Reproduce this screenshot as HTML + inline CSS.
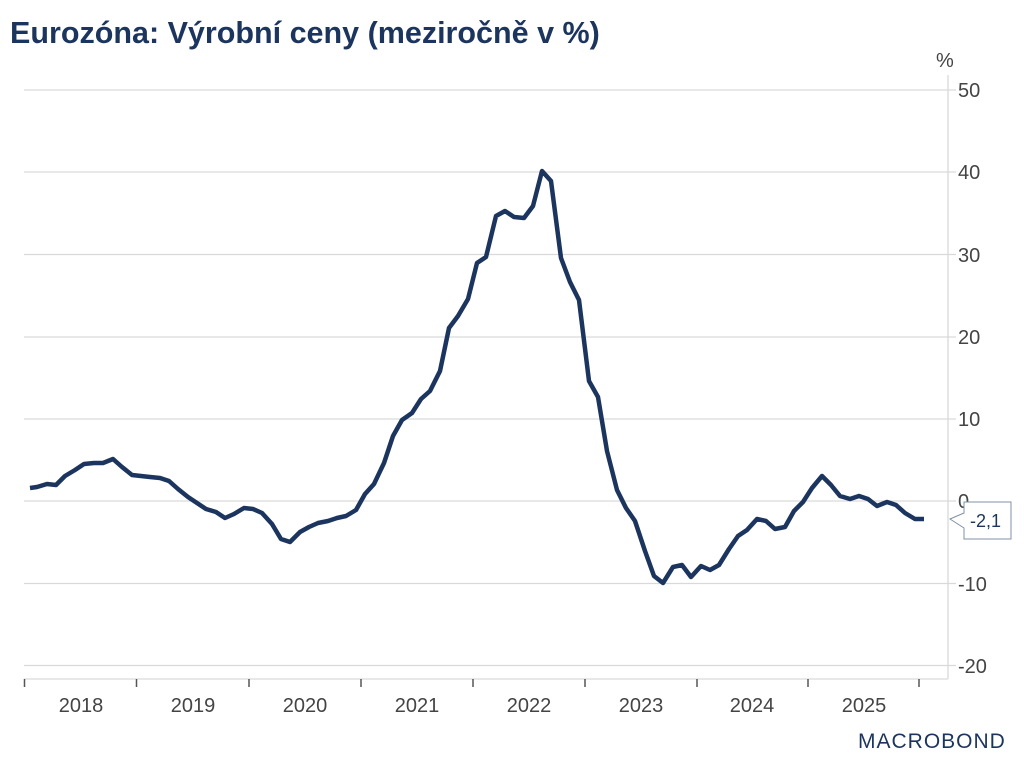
<!DOCTYPE html>
<html><head><meta charset="utf-8"><style>
body{margin:0;background:#fff;}
svg{display:block;font-family:"Liberation Sans",sans-serif;}
</style></head><body>
<svg width="1024" height="767" viewBox="0 0 1024 767">
<text x="10" y="43" font-size="30.5" font-weight="bold" fill="#1c355e">Eurozóna: Výrobní ceny (meziročně v %)</text>
<g stroke="#d9d9d9" stroke-width="1.3">
<line x1="24" y1="90" x2="956" y2="90"/>
<line x1="24" y1="172" x2="956" y2="172"/>
<line x1="24" y1="254.5" x2="956" y2="254.5"/>
<line x1="24" y1="337" x2="956" y2="337"/>
<line x1="24" y1="419" x2="956" y2="419"/>
<line x1="24" y1="501" x2="956" y2="501"/>
<line x1="24" y1="583.5" x2="956" y2="583.5"/>
<line x1="24" y1="665.5" x2="956" y2="665.5"/>
<line x1="948" y1="75" x2="948" y2="679"/>
<line x1="24" y1="679" x2="948" y2="679"/>
</g>
<g stroke="#555" stroke-width="1.5">
<line x1="24.5" y1="679" x2="24.5" y2="687"/><line x1="136.5" y1="679" x2="136.5" y2="687"/>
<line x1="249" y1="679" x2="249" y2="687"/><line x1="361" y1="679" x2="361" y2="687"/>
<line x1="473" y1="679" x2="473" y2="687"/><line x1="585" y1="679" x2="585" y2="687"/>
<line x1="697" y1="679" x2="697" y2="687"/><line x1="808" y1="679" x2="808" y2="687"/>
<line x1="919" y1="679" x2="919" y2="687"/>
</g>
<g font-size="20" fill="#444" text-anchor="middle">
<text x="81" y="712">2018</text><text x="193" y="712">2019</text><text x="305" y="712">2020</text>
<text x="417" y="712">2021</text><text x="529" y="712">2022</text><text x="641" y="712">2023</text>
<text x="752" y="712">2024</text><text x="864" y="712">2025</text>
</g>
<g font-size="20" fill="#444">
<text x="936" y="67">%</text>
<text x="958" y="97">50</text><text x="958" y="179">40</text><text x="958" y="262">30</text>
<text x="958" y="344">20</text><text x="958" y="426">10</text><text x="958" y="508">0</text>
<text x="958" y="591">-10</text><text x="958" y="673">-20</text>
</g>
<path d="M964,502 H1011 V539 H964 V528 L950,519 L964,513 Z" fill="#fff" stroke="#8090a8" stroke-width="1"/>
<text x="970" y="527" font-size="18" fill="#1c355e">-2,1</text>
<polyline fill="none" stroke="#1c355e" stroke-width="4.5" stroke-linejoin="round" points="30,488 37,487 47,484 56,485 65,476 75,470 84,464 94,463 103,463 113,459 122,467 132,475 141,476 150,477 160,478 169,481 178,489 188,497 197,503 206,509 216,512 225,518 234,514 244,508 253,509 262,513 272,524 281,539 290,542 300,532 309,527 318,523 328,521 337,518 346,516 356,510 365,494 374,484 384,463 393,436 402,420 412,413 421,399 430,391 440,371 449,328 458,316 468,299 477,263 486,257 496,216 505,211 514,217 524,218 533,206 542,171 551,181 561,258 570,282 579,300 589,381 598,397 607,451 617,490 626,508 635,521 645,551 654,576 663,583 673,567 682,565 691,577 701,566 710,570 719,565 729,549 738,536 747,530 757,519 766,521 775,529 785,527 794,511 803,502 812,488 822,476 831,485 840,496 850,499 859,496 868,499 877,506 887,502 896,505 905,513 915,519 924,519"/>
<text x="858" y="748" font-size="21" fill="#1c355e" letter-spacing="1">MACROBOND</text>
</svg>
</body></html>
